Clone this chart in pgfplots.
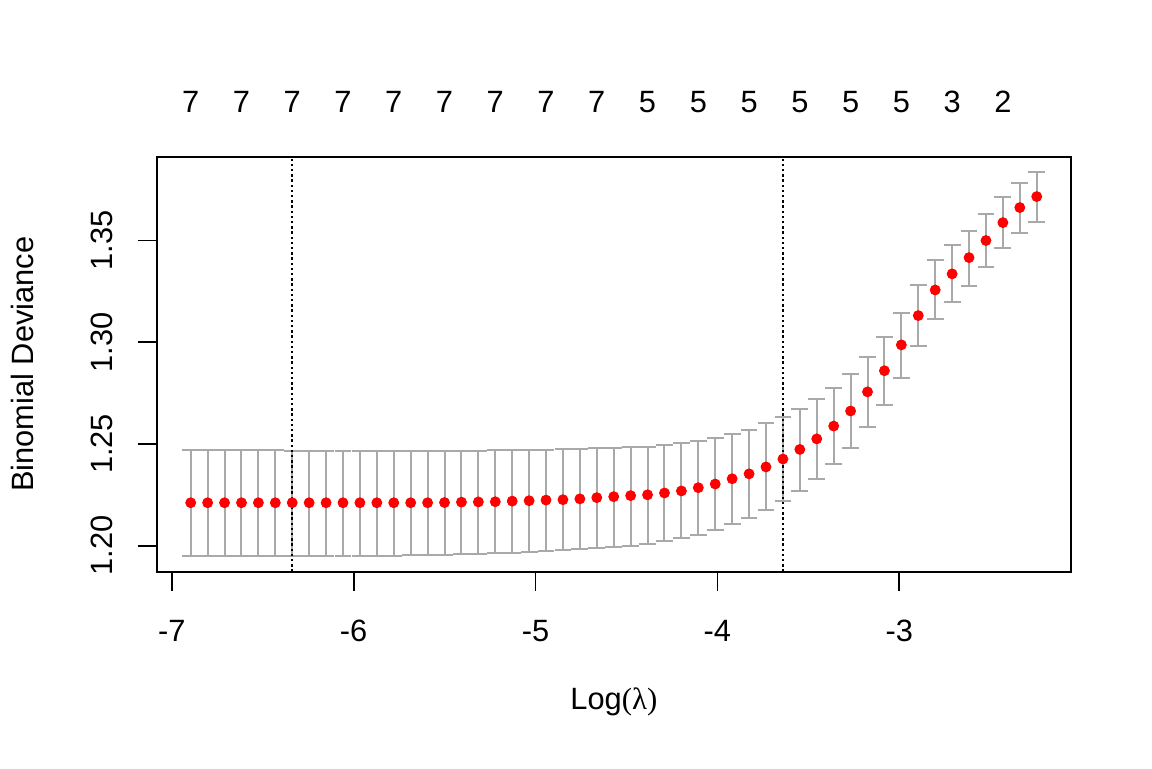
\documentclass[border=0pt]{standalone}
\usepackage{fontspec}
\setmainfont{Liberation Sans}
\newfontfamily\lamfont{Liberation Serif}
\usepackage{pgfplots}
\usepackage{pgfplotstable}
\pgfplotsset{compat=1.18}
\definecolor{errgray}{HTML}{A9A9A9}
\definecolor{ptred}{HTML}{FF0000}

\pgfplotstableread{
x y up lo
-6.8955 1.2211 1.2470 1.1951
-6.8025 1.2211 1.2470 1.1951
-6.7095 1.2211 1.2470 1.1951
-6.6164 1.2211 1.2470 1.1951
-6.5234 1.2211 1.2470 1.1951
-6.4304 1.2211 1.2470 1.1951
-6.3374 1.2211 1.2466 1.1951
-6.2444 1.2211 1.2466 1.1951
-6.1513 1.2211 1.2466 1.1951
-6.0583 1.2211 1.2466 1.1951
-5.9653 1.2211 1.2466 1.1951
-5.8723 1.2211 1.2466 1.1951
-5.7793 1.2211 1.2466 1.1951
-5.6862 1.2211 1.2466 1.1956
-5.5932 1.2211 1.2466 1.1956
-5.5002 1.2212 1.2466 1.1956
-5.4072 1.2214 1.2467 1.1959
-5.3142 1.2215 1.2467 1.1959
-5.2211 1.2216 1.2470 1.1964
-5.1281 1.2219 1.2470 1.1964
-5.0351 1.2221 1.2470 1.1969
-4.9421 1.2224 1.2470 1.1974
-4.8491 1.2226 1.2475 1.1979
-4.7560 1.2230 1.2475 1.1984
-4.6630 1.2236 1.2480 1.1989
-4.5700 1.2241 1.2480 1.1995
-4.4770 1.2246 1.2485 1.2000
-4.3840 1.2250 1.2487 1.2007
-4.2909 1.2259 1.2495 1.2023
-4.1979 1.2269 1.2506 1.2039
-4.1049 1.2285 1.2515 1.2054
-4.0119 1.2303 1.2529 1.2079
-3.9189 1.2329 1.2549 1.2108
-3.8258 1.2353 1.2569 1.2138
-3.7328 1.2387 1.2601 1.2177
-3.6398 1.2426 1.2634 1.2221
-3.5468 1.2473 1.2672 1.2270
-3.4538 1.2525 1.2721 1.2329
-3.3607 1.2588 1.2775 1.2403
-3.2677 1.2662 1.2846 1.2482
-3.1747 1.2756 1.2928 1.2581
-3.0817 1.2860 1.3026 1.2693
-2.9887 1.2987 1.3144 1.2826
-2.8956 1.3131 1.3283 1.2983
-2.8026 1.3257 1.3406 1.3115
-2.7096 1.3336 1.3478 1.3200
-2.6166 1.3416 1.3549 1.3278
-2.5236 1.3500 1.3632 1.3372
-2.4305 1.3588 1.3714 1.3465
-2.3375 1.3662 1.3783 1.3539
-2.2445 1.3716 1.3837 1.3593
}\cvdata

\begin{document}
\fontsize{15.4}{18.5}\selectfont
\begin{tikzpicture}
\path[use as bounding box, fill=white] (0,0) rectangle (576pt,384pt);
\begin{axis}[
  at={(78.35pt,98.15pt)}, anchor=south west,
  scale only axis, width=457.15pt, height=207.5pt,
  xmin=-7.0825, xmax=-2.056, ymin=1.1872, ymax=1.3912,
  axis line style={black, line width=1pt},
  xtick={-7,-6,-5,-4,-3}, xticklabels={-7,-6,-5,-4,-3},
  ytick={1.20,1.25,1.30,1.35}, yticklabels={1.20,1.25,1.30,1.35},
  xtick pos=bottom, ytick pos=left,
  tick align=outside, major tick length=9.5pt,
  tick style={black, line width=0.9pt},
  xticklabel style={anchor=base, inner sep=0pt},
  yticklabel style={rotate=90, anchor=base, inner sep=0pt},
  xticklabel shift=25.5pt,
  yticklabel shift=12.5pt,
  xlabel={Log{\lamfont (λ)}},
  ylabel={Binomial Deviance},
  every axis x label/.style={at={(axis description cs:0.5,-0.3316)}, anchor=base, inner sep=0pt},
  every axis y label/.style={at={(axis description cs:-0.135,0.5)}, rotate=90, anchor=base, inner sep=0pt},
  clip=true,
]
\addplot[only marks, mark=none, forget plot,
  error bars/.cd, y dir=both, y explicit,
  error bar style={color=errgray, line width=1pt},
  error mark options={rotate=90, mark size=4.2pt, line width=1pt, color=errgray}]
  table[x=x, y=y, y error plus expr=\thisrow{up}-\thisrow{y}, y error minus expr=\thisrow{y}-\thisrow{lo}] {\cvdata};
\addplot[only marks, mark=*, mark size=2.5pt, mark options={draw=ptred, fill=ptred}] table[x=x, y=y] {\cvdata};
\addplot[black, line width=1pt, dash pattern=on 1.2pt off 1.4pt] coordinates {(-6.3374,1.1872) (-6.3374,1.3912)};
\addplot[black, line width=1pt, dash pattern=on 1.2pt off 1.4pt] coordinates {(-3.6398,1.1872) (-3.6398,1.3912)};
\end{axis}
\begin{axis}[
  at={(78.35pt,98.15pt)}, anchor=south west,
  scale only axis, width=457.15pt, height=207.5pt,
  xmin=-7.0825, xmax=-2.056, ymin=1.1872, ymax=1.3912,
  axis x line*=top, hide y axis,
  axis line style={draw=none},
  xtick={-6.8955,-6.6164,-6.3374,-6.0583,-5.7793,-5.5002,-5.2211,-4.9421,-4.6630,-4.3840,-4.1049,-3.8258,-3.5468,-3.2677,-2.9887,-2.7096,-2.4305},
  xticklabels={7,7,7,7,7,7,7,7,7,5,5,5,5,5,5,3,2},
  major tick length=0pt,
  xticklabel style={anchor=base, inner sep=0pt},
  xticklabel shift=22.2pt,
]
\end{axis}
\end{tikzpicture}
\end{document}
